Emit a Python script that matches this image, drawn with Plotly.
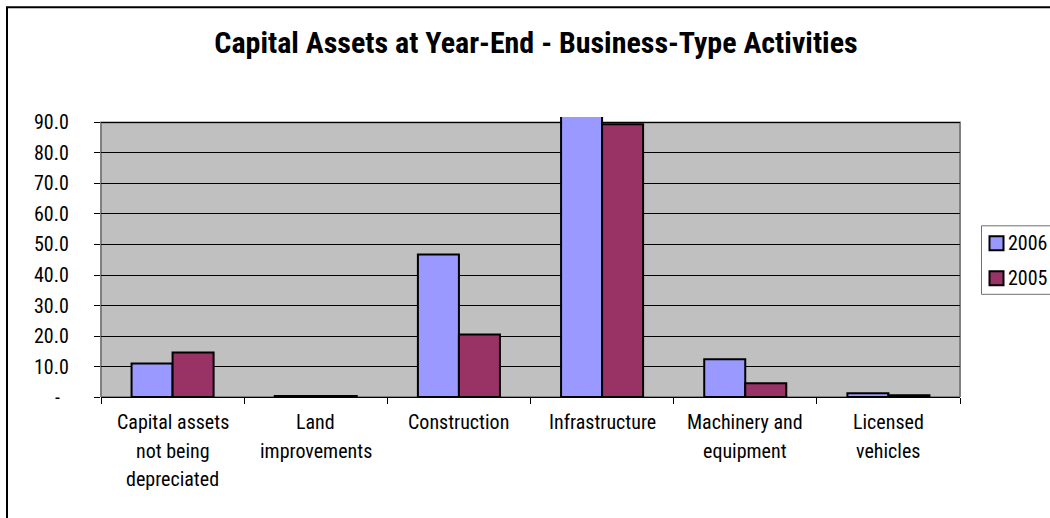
import plotly.graph_objects as go

# Capital assets by category, in millions (one entry per line of each label)
categories = [
    ["Capital assets", "not being", "depreciated"],
    ["Land", "improvements"],
    ["Construction"],
    ["Infrastructure"],
    ["Machinery and", "equipment"],
    ["Licensed", "vehicles"],
]
values_2006 = [11.0, 0.3, 46.7, 95.0, 12.4, 1.2]
values_2005 = [14.6, 0.3, 20.5, 89.4, 4.5, 0.6]
series_names = ["2006", "2005"]
series_colors = ["#9999FF", "#993366"]

y_ticks = [0, 10, 20, 30, 40, 50, 60, 70, 80, 90]
y_ticktext = ["-\u00a0\u00a0"] + [f"{v:.1f}" for v in y_ticks[1:]]

FONT = "Roboto Condensed, Liberation Sans Narrow, Arial Narrow, sans-serif"

W, H = 1050, 518
L, R, T, B = 101, 960, 116.7, 396.7   # plot area in pixels
PW, PH = R - L, B - T
y_top = 91.8


def px_x(px):
    return (px - L) / PW


def px_y(py):
    return (B - py) / PH


x_pos = list(range(len(categories)))

fig = go.Figure()
for name, vals, color in zip(series_names, [values_2006, values_2005], series_colors):
    fig.add_trace(go.Bar(
        x=x_pos, y=vals, name=name, showlegend=False,
        marker=dict(color=color, line=dict(color="black", width=2)),
    ))

shapes = [
    # grey plotting area up to the top gridline
    dict(type="rect", xref="paper", yref="y", x0=0, x1=1, y0=0, y1=90,
         fillcolor="#C0C0C0", line=dict(width=0), layer="below"),
    # its grey border, kept above the gridlines
    dict(type="rect", xref="paper", yref="y", x0=0, x1=1, y0=0, y1=90,
         fillcolor="rgba(0,0,0,0)", line=dict(color="#808080", width=2), layer="between"),
    # outer chart frame
    dict(type="rect", xref="paper", yref="paper",
         x0=px_x(7), x1=1.3, y0=-0.6, y1=px_y(7),
         line=dict(color="black", width=2), fillcolor="rgba(0,0,0,0)", layer="below"),
    # legend box
    dict(type="rect", xref="paper", yref="paper",
         x0=px_x(981.5), x1=px_x(1065), y0=px_y(294), y1=px_y(225.5),
         line=dict(color="#707070", width=1), fillcolor="white", layer="above"),
]

annotations = []
txt_font = dict(family=FONT, size=20, color="black")

# y tick labels
for v, txt in zip(y_ticks, y_ticktext):
    annotations.append(dict(
        xref="paper", yref="y", x=px_x(71), y=v, xanchor="right", yanchor="middle",
        text=txt, showarrow=False, font=txt_font,
    ))

# category labels, one line at a time
first_line, line_pitch = 422, 28.5
for xi, lines in zip(x_pos, categories):
    for k, line in enumerate(lines):
        annotations.append(dict(
            xref="x", yref="paper", x=xi, y=px_y(first_line + k * line_pitch),
            xanchor="center", yanchor="middle", text=line, showarrow=False,
            font=txt_font,
        ))

# legend entries
legend_rows = [243, 278]
for name, color, cy in zip(series_names, series_colors, legend_rows):
    shapes.append(dict(
        type="rect", xref="paper", yref="paper",
        x0=px_x(989.5), x1=px_x(1003.5), y0=px_y(cy + 7), y1=px_y(cy - 7),
        fillcolor=color, line=dict(color="black", width=2), layer="above",
    ))
    annotations.append(dict(
        xref="paper", yref="paper", x=px_x(1006), y=px_y(cy),
        xanchor="left", yanchor="middle", text=name, showarrow=False,
        font=txt_font,
    ))

fig.update_layout(
    width=W, height=H,
    margin=dict(l=L, r=W - R, t=T, b=H - B, autoexpand=False),
    paper_bgcolor="white", plot_bgcolor="rgba(0,0,0,0)",
    barmode="group", bargap=0.427, bargroupgap=0,
    font=dict(family=FONT, size=20, color="black"),
    showlegend=False,
    title=dict(
        text="<b>Capital Assets at Year-End - Business-Type Activities</b>",
        x=536 / W, xanchor="center", y=1 - 42 / H, yanchor="middle",
        font=dict(family=FONT, size=30, color="black"),
    ),
    xaxis=dict(
        range=[-0.5, len(categories) - 0.5],
        tickvals=x_pos, showticklabels=False, ticks="", showgrid=False,
        showline=True, linecolor="black", linewidth=1,
        minor=dict(tick0=-0.5, dtick=1, ticks="outside", ticklen=6,
                   tickcolor="black", showgrid=False),
        zeroline=False,
    ),
    yaxis=dict(
        range=[0, y_top], tickvals=y_ticks, showticklabels=False,
        ticks="outside", ticklen=6, tickcolor="black",
        showgrid=True, gridcolor="black", gridwidth=1,
        showline=False, zeroline=False,
    ),
    shapes=shapes,
    annotations=annotations,
)

fig.write_html("out.html")
